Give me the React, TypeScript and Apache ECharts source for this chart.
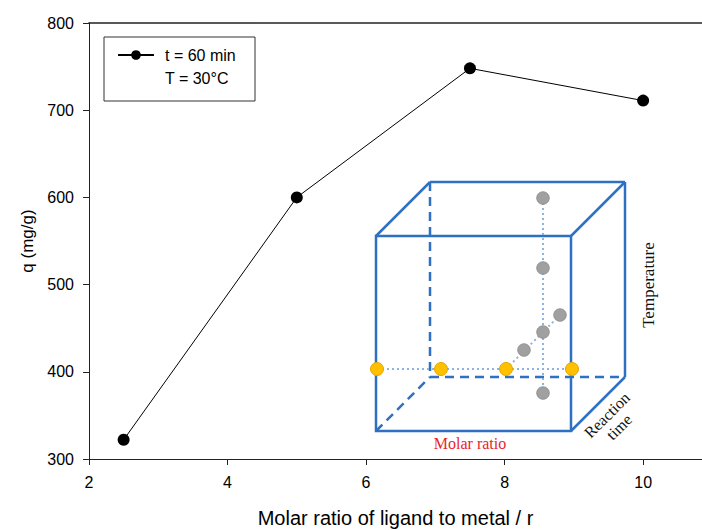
import React, { useEffect, useRef } from "react";
import * as echarts from "echarts";

// ---- data ----
const ratios = [2.5, 5, 7.5, 10];
const qValues = [322, 600, 748, 711];
const xTickLabels = [2, 4, 6, 8, 10];
const yTickLabels = [300, 400, 500, 600, 700, 800];
const seriesName = "t = 60 min";
const legendSecondLine = "T = 30°C";
const xTitle = "Molar ratio of ligand to metal / r";
const yTitle = "q (mg/g)";
const insetTemperature = "Temperature";
const insetMolar = "Molar ratio";
const insetReaction = "Reaction\ntime";

const SANS = "Liberation Sans, Arial, sans-serif";
const SERIF = "Liberation Serif, Times New Roman, serif";
const BLUE = "#2e70c4";
const DOT = "#8fb3e0";

function cubeGraphics() {
  // schematic inset (illustration, not data)
  const fx = 376, fy = 236, s = 195, dx = 54, dy = -54;
  const bx = fx + dx, by = fy + dy;
  const solid = { stroke: BLUE, lineWidth: 2.5, fill: "none" };
  const dashed = { stroke: BLUE, lineWidth: 2.5, lineDash: [9, 6] };
  const dotted = { stroke: DOT, lineWidth: 2, lineDash: [2, 3] };
  const line = (x1: number, y1: number, x2: number, y2: number, style: any) => ({
    type: "line",
    shape: { x1, y1, x2, y2 },
    style,
    silent: true,
  });
  const yellowY = 369;
  const yellowX = [377, 441, 506, 572];
  const grayPts = [
    [543, 198],
    [543, 268],
    [543, 332],
    [543, 393],
    [524, 350],
    [560, 315],
  ];
  const els: any[] = [
    line(bx, by, bx, by + s, dashed),
    line(bx, by + s, bx + s, by + s, dashed),
    line(fx, fy + s, bx, by + s, dashed),
    line(bx, by, bx + s, by, solid),
    line(bx + s, by, bx + s, by + s, solid),
    line(fx, fy, bx, by, solid),
    line(fx + s, fy, bx + s, by, solid),
    line(fx + s, fy + s, bx + s, by + s, solid),
    { type: "rect", shape: { x: fx, y: fy, width: s, height: s }, style: solid, silent: true },
    line(377, yellowY, 572, yellowY, dotted),
    line(543, 198, 543, 393, dotted),
    line(506, yellowY, 560, 315, dotted),
  ];
  grayPts.forEach(([x, y]) =>
    els.push({
      type: "circle",
      shape: { cx: x, cy: y, r: 6.3 },
      style: { fill: "#a0a0a0", stroke: "#8c8c8c", lineWidth: 0.8 },
      silent: true,
    })
  );
  yellowX.forEach((x) =>
    els.push({
      type: "circle",
      shape: { cx: x, cy: yellowY, r: 6.5 },
      style: { fill: "#ffc000", stroke: "#e6a500", lineWidth: 1 },
      silent: true,
    })
  );
  els.push({
    type: "text",
    x: 648,
    y: 285,
    rotation: Math.PI / 2,
    style: {
      text: insetTemperature,
      font: `17px ${SERIF}`,
      fill: "#111",
      align: "center",
      verticalAlign: "middle",
    },
    silent: true,
  });
  els.push({
    type: "text",
    x: 470,
    y: 443,
    style: {
      text: insetMolar,
      font: `16px ${SERIF}`,
      fill: "#e8242b",
      align: "center",
      verticalAlign: "middle",
    },
    silent: true,
  });
  els.push({
    type: "text",
    x: 613,
    y: 421,
    rotation: Math.PI / 4,
    style: {
      text: insetReaction,
      font: `16px ${SERIF}`,
      fill: "#111",
      align: "center",
      verticalAlign: "middle",
      lineHeight: 17,
    },
    silent: true,
  });
  return els;
}

export default function App() {
  const ref = useRef<HTMLDivElement>(null);
  useEffect(() => {
    if (!ref.current) return;
    const chart = echarts.init(ref.current, null, { renderer: "svg" });
    const axisLine = { show: true, lineStyle: { color: "#222", width: 1 } };
    chart.setOption({
      animation: false,
      backgroundColor: "#fff",
      grid: { left: 89, right: 0, top: 23, bottom: 71, outerBoundsMode: "none", containLabel: false },
      legend: {
        left: 117,
        top: 47,
        itemWidth: 36,
        itemHeight: 12,
        padding: 0,
        data: [seriesName],
        textStyle: { fontSize: 16, fontFamily: SANS, color: "#000", padding: [0, 0, 0, 6] },
      },
      xAxis: [
        {
          type: "value",
          min: 2,
          max: 10.85,
          interval: 2,
          axisLine,
          axisTick: { show: true, inside: false, length: 6, lineStyle: { color: "#222" } },
          axisLabel: {
            margin: 15,
            fontSize: 16,
            fontFamily: SANS,
            color: "#000",
            showMaxLabel: false,
            formatter: (v: number) => (xTickLabels.includes(v) ? String(v) : ""),
          },
          splitLine: { show: false },
          name: xTitle,
          nameLocation: "middle",
          nameGap: 49,
          nameTextStyle: { fontSize: 20, fontFamily: SANS, color: "#000" },
        },
        {
          type: "value",
          position: "top",
          min: 2,
          max: 10.85,
          axisLine: { show: true, lineStyle: { color: "#222", width: 1.6 } },
          axisTick: { show: false },
          axisLabel: { show: false },
          splitLine: { show: false },
        },
      ],
      yAxis: {
        type: "value",
        min: 300,
        max: 800,
        interval: 100,
        axisLine,
        axisTick: { show: true, inside: false, length: 6, lineStyle: { color: "#222" } },
        axisLabel: {
          margin: 15,
          fontSize: 16,
          fontFamily: SANS,
          color: "#000",
          formatter: (v: number) => (yTickLabels.includes(v) ? String(v) : ""),
        },
        splitLine: { show: false },
        name: yTitle,
        nameLocation: "middle",
        nameGap: 47,
        nameTextStyle: { fontSize: 17, fontFamily: SANS, color: "#000" },
      },
      series: [
        {
          name: seriesName,
          type: "line",
          xAxisIndex: 0,
          data: ratios.map((r, i) => [r, qValues[i]]),
          symbol: "circle",
          symbolSize: 12,
          lineStyle: { color: "#000", width: 1 },
          itemStyle: { color: "#000" },
        },
      ],
      graphic: [
        {
          type: "rect",
          shape: { x: 104, y: 37, width: 151, height: 64 },
          style: { fill: "none", stroke: "#333", lineWidth: 1 },
          silent: true,
        },
        {
          type: "text",
          x: 165,
          y: 78,
          style: {
            text: legendSecondLine,
            font: `16px ${SANS}`,
            fill: "#000",
            verticalAlign: "middle",
          },
          silent: true,
        },
        ...cubeGraphics(),
      ],
    });
    return () => chart.dispose();
  }, []);
  return (
    <div
      ref={ref}
      style={{ position: "fixed", left: 0, top: 0, width: 702, height: 530 }}
    />
  );
}
